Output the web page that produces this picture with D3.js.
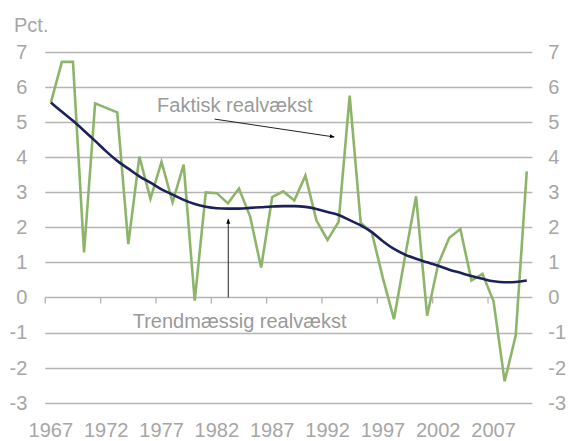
<!DOCTYPE html>
<html><head><meta charset="utf-8">
<script src="https://cdn.jsdelivr.net/npm/d3@7"></script>
<style>
html,body{margin:0;padding:0;background:#fff;}
svg text{font-family:"Liberation Sans",Arial,sans-serif;}
</style></head>
<body>
<svg id="chart" width="569" height="441"></svg>
<script>
const years = d3.range(1967, 2011);
const faktisk = [5.55,6.71,6.71,1.28,5.53,5.40,5.27,1.52,4.01,2.81,3.86,2.71,3.78,-0.09,2.99,2.97,2.68,3.10,2.31,0.85,2.86,3.02,2.76,3.47,2.19,1.64,2.15,5.75,2.12,1.85,0.55,-0.62,1.16,2.88,-0.52,0.95,1.70,1.95,0.48,0.67,-0.11,-2.39,-1.09,3.59];
const trend = [5.55,5.29,5.03,4.75,4.46,4.16,3.89,3.67,3.45,3.27,3.08,2.93,2.78,2.66,2.58,2.54,2.53,2.53,2.55,2.57,2.59,2.60,2.60,2.58,2.52,2.43,2.35,2.20,2.05,1.86,1.60,1.38,1.22,1.10,1.00,0.90,0.79,0.70,0.61,0.53,0.46,0.43,0.44,0.48];
const yTicks = [-3,-2,-1,0,1,2,3,4,5,6,7];
const xTickLabels = [1967,1972,1977,1982,1987,1992,1997,2002,2007];
const yUnit = "Pct.";
const annotations = [
  {text:"Faktisk realvækst", tx:1976.6, ty:5.29, from:[1981.8,5.08], to:[1992.6,4.57]},
  {text:"Trendmæssig realvækst", tx:1974.4, ty:-0.86, from:[1983.03,0], to:[1983.03,2.23]}
];

const svg = d3.select("#chart");
const mLeft = 45.3, mRight = 532.3, mTop = 51.7, mBottom = 402.7;
const x = d3.scaleBand().domain(years).range([mLeft, mRight]).padding(0);
const y = d3.scaleLinear().domain([-3, 7]).range([mBottom, mTop]);
const bw = x.bandwidth();
const xc = yr => x(years[0]) + (yr - years[0]) * x.step() + bw / 2;
const textCol = "#a6a6a6";
const fmt = d => String(d);

// gridlines
svg.append("g").selectAll("line").data(yTicks).join("line")
  .attr("x1", mLeft).attr("x2", mRight)
  .attr("y1", d => Math.round(y(d)) + 0.5).attr("y2", d => Math.round(y(d)) + 0.5)
  .attr("stroke", "#b4b4b4").attr("stroke-width", 1.3);

// category ticks on zero line
const tickYears = years.filter((d, i) => i % 5 === 0);
svg.append("g").selectAll("line").data(tickYears).join("line")
  .attr("x1", d => x(d)).attr("x2", d => x(d))
  .attr("y1", y(0)).attr("y2", y(0) + 6)
  .attr("stroke", "#b4b4b4").attr("stroke-width", 1.3);

// axes
const yl = svg.append("g").attr("transform", `translate(${mLeft},0)`)
  .call(d3.axisLeft(y).tickValues(yTicks).tickSize(0).tickPadding(18).tickFormat(fmt));
const yr = svg.append("g").attr("transform", `translate(${mRight},0)`)
  .call(d3.axisRight(y).tickValues(yTicks).tickSize(0).tickPadding(16).tickFormat(fmt));
[yl, yr].forEach(g => {
  g.select(".domain").remove();
  g.selectAll("text").attr("fill", textCol).style("font-size", "20px");
});

const xa = svg.append("g").attr("transform", `translate(0,${mBottom})`)
  .call(d3.axisBottom(x).tickValues(xTickLabels).tickSize(0).tickPadding(20).tickFormat(fmt));
xa.select(".domain").remove();
xa.selectAll("text").attr("fill", textCol).style("font-size", "20px");

svg.append("text").attr("x", 14).attr("y", 32).text(yUnit)
  .attr("fill", textCol).style("font-size", "20px");

// lines
const line = d3.line().x((d, i) => x(years[i]) + bw / 2).y(d => y(d));
svg.append("path").datum(faktisk).attr("d", line)
  .attr("fill", "none").attr("stroke", "#8db56a").attr("stroke-width", 2.6).attr("stroke-linejoin", "miter");
svg.append("path").datum(trend).attr("d", d3.line().curve(d3.curveMonotoneX).x((d, i) => x(years[i]) + bw / 2).y(d => y(d)))
  .attr("fill", "none").attr("stroke", "#1c2159").attr("stroke-width", 2.6);

// annotations
const defs = svg.append("defs");
defs.append("marker").attr("id", "arr").attr("viewBox", "0 0 10 10").attr("refX", 9).attr("refY", 5)
  .attr("markerWidth", 5).attr("markerHeight", 5).attr("orient", "auto")
  .append("path").attr("d", "M0,1 L10,5 L0,9 z").attr("fill", "#000");

annotations.forEach(a => {
  svg.append("line")
    .attr("x1", xc(a.from[0])).attr("y1", y(a.from[1]))
    .attr("x2", xc(a.to[0])).attr("y2", y(a.to[1]))
    .attr("stroke", "#222").attr("stroke-width", 1).attr("marker-end", "url(#arr)");
  svg.append("text").attr("x", xc(a.tx)).attr("y", y(a.ty)).text(a.text)
    .attr("fill", "#9a9a9a").style("font-size", "20px");
});
</script>
</body></html>
